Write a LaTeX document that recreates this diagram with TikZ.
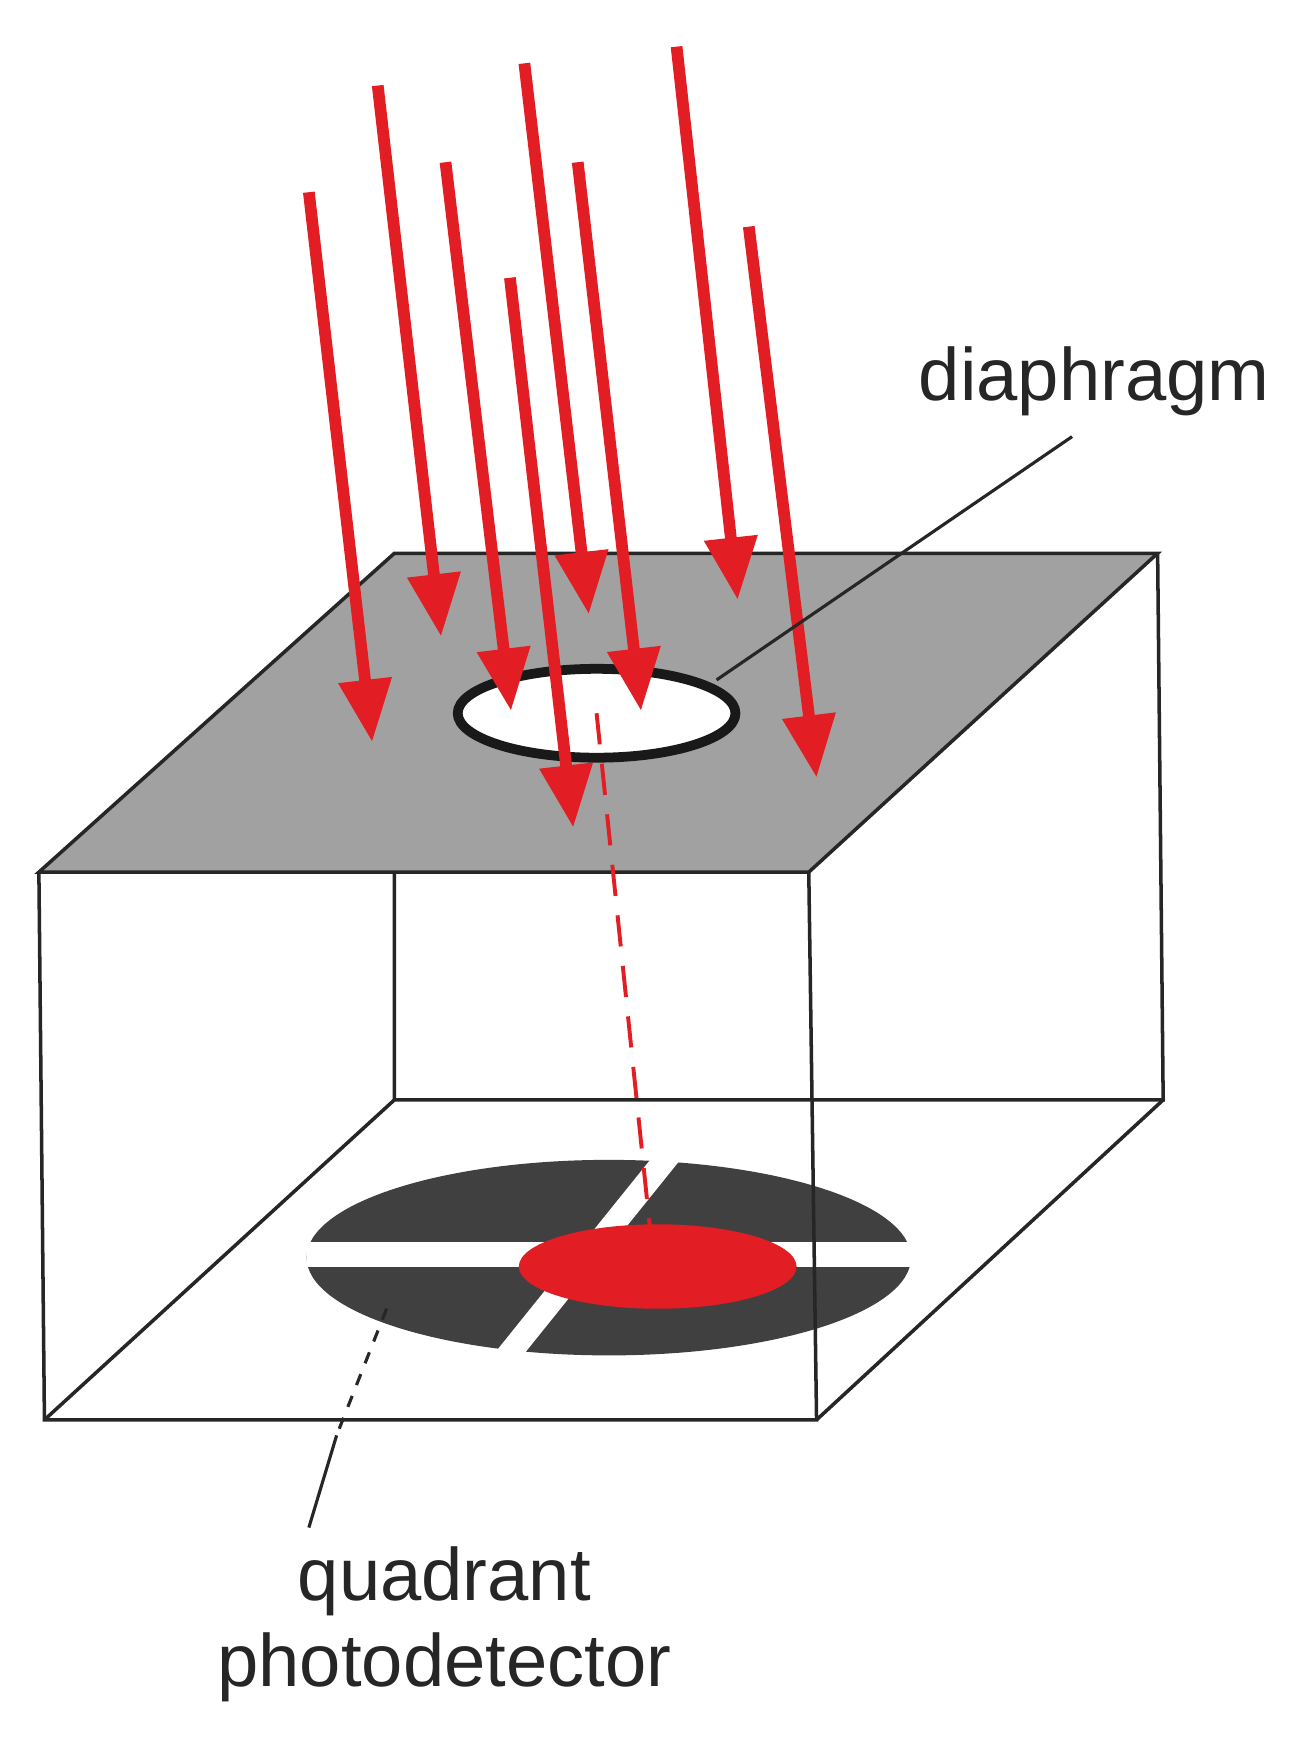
\documentclass[tikz,border=0pt]{standalone}
\usepackage{fontspec}
\setmainfont{Liberation Sans}
\usetikzlibrary{arrows.meta}
\definecolor{topgray}{RGB}{160,161,160}
\definecolor{detgray}{RGB}{64,64,64}
\definecolor{beam}{RGB}{226,30,36}
\tikzset{
  edge/.style={draw=black!85,line width=0.9pt},
  ray/.style={draw=beam,line width=3pt,-{Triangle[length=16pt,width=13pt]}},
  lbl/.style={font=\fontsize{19}{22}\selectfont,text=black!85,align=center,inner sep=0pt}
}
\begin{document}
\begin{tikzpicture}[x=0.01cm,y=-0.01cm]
\useasboundingbox (0,0) rectangle (1178,1568);
\coordinate (TBL) at (355,498); \coordinate (TBR) at (1042,498);
\coordinate (TFR) at (728,785); \coordinate (TFL) at (35,785);
\coordinate (BBL) at (355,990); \coordinate (BBR) at (1047,990);
\coordinate (BFR) at (735,1278); \coordinate (BFL) at (40,1278);
\draw[edge] (TBL)--(BBL)--(BBR)--(TBR);
\draw[edge] (BBL)--(BFL);
\begin{scope}
\clip (276,1044) rectangle (820,1220);
\fill[detgray] (548,1132) ellipse [x radius=272,y radius=88];
\fill[white] (250,1118) rectangle (850,1140);
\draw[white,line width=6pt] (610,1030)--(445,1235);
\end{scope}
\fill[beam] (592,1140) ellipse [x radius=125,y radius=38];
\coordinate (det) at (348,1178);
\coordinate (detend) at (278,1375);
\coordinate (detmid) at (303,1292);
\draw[black!85,line width=0.8pt,dashed] (det)--(detmid);
\draw[black!85,line width=0.8pt] (detmid)--(detend);
\filldraw[fill=topgray,edge] (TBL)--(TBR)--(TFR)--(TFL)--cycle;
\draw[edge] (TFL)--(BFL)--(BFR)--(TFR);
\draw[edge] (BFR)--(BBR);
\filldraw[draw=black!90,line width=2.5pt,fill=white] (537,642) ellipse [x radius=125,y radius=40];
\coordinate (hc) at (537,642);
\coordinate (spot) at (585,1105);
\draw[beam,line width=1pt,dash pattern=on 8pt off 5pt] (hc)--(spot);
\draw[ray] (278,173)--(335,668);
\draw[ray] (340,77)--(397,573);
\draw[ray] (401,146)--(460,640);
\draw[ray] (459,250)--(516,745);
\draw[ray] (472,57)--(530,553);
\draw[ray] (520,146)--(577,640);
\draw[ray] (609,42)--(664,540);
\draw[ray] (674,204)--(735,700);
\node[lbl] (dia) at (985,343) {diaphragm};
\coordinate (diaend) at (645,612);
\draw[black!85,line width=0.8pt] (965,393)--(diaend);
\node[lbl] (qpd) at (400,1462) {quadrant\\photodetector};
\end{tikzpicture}
\end{document}
